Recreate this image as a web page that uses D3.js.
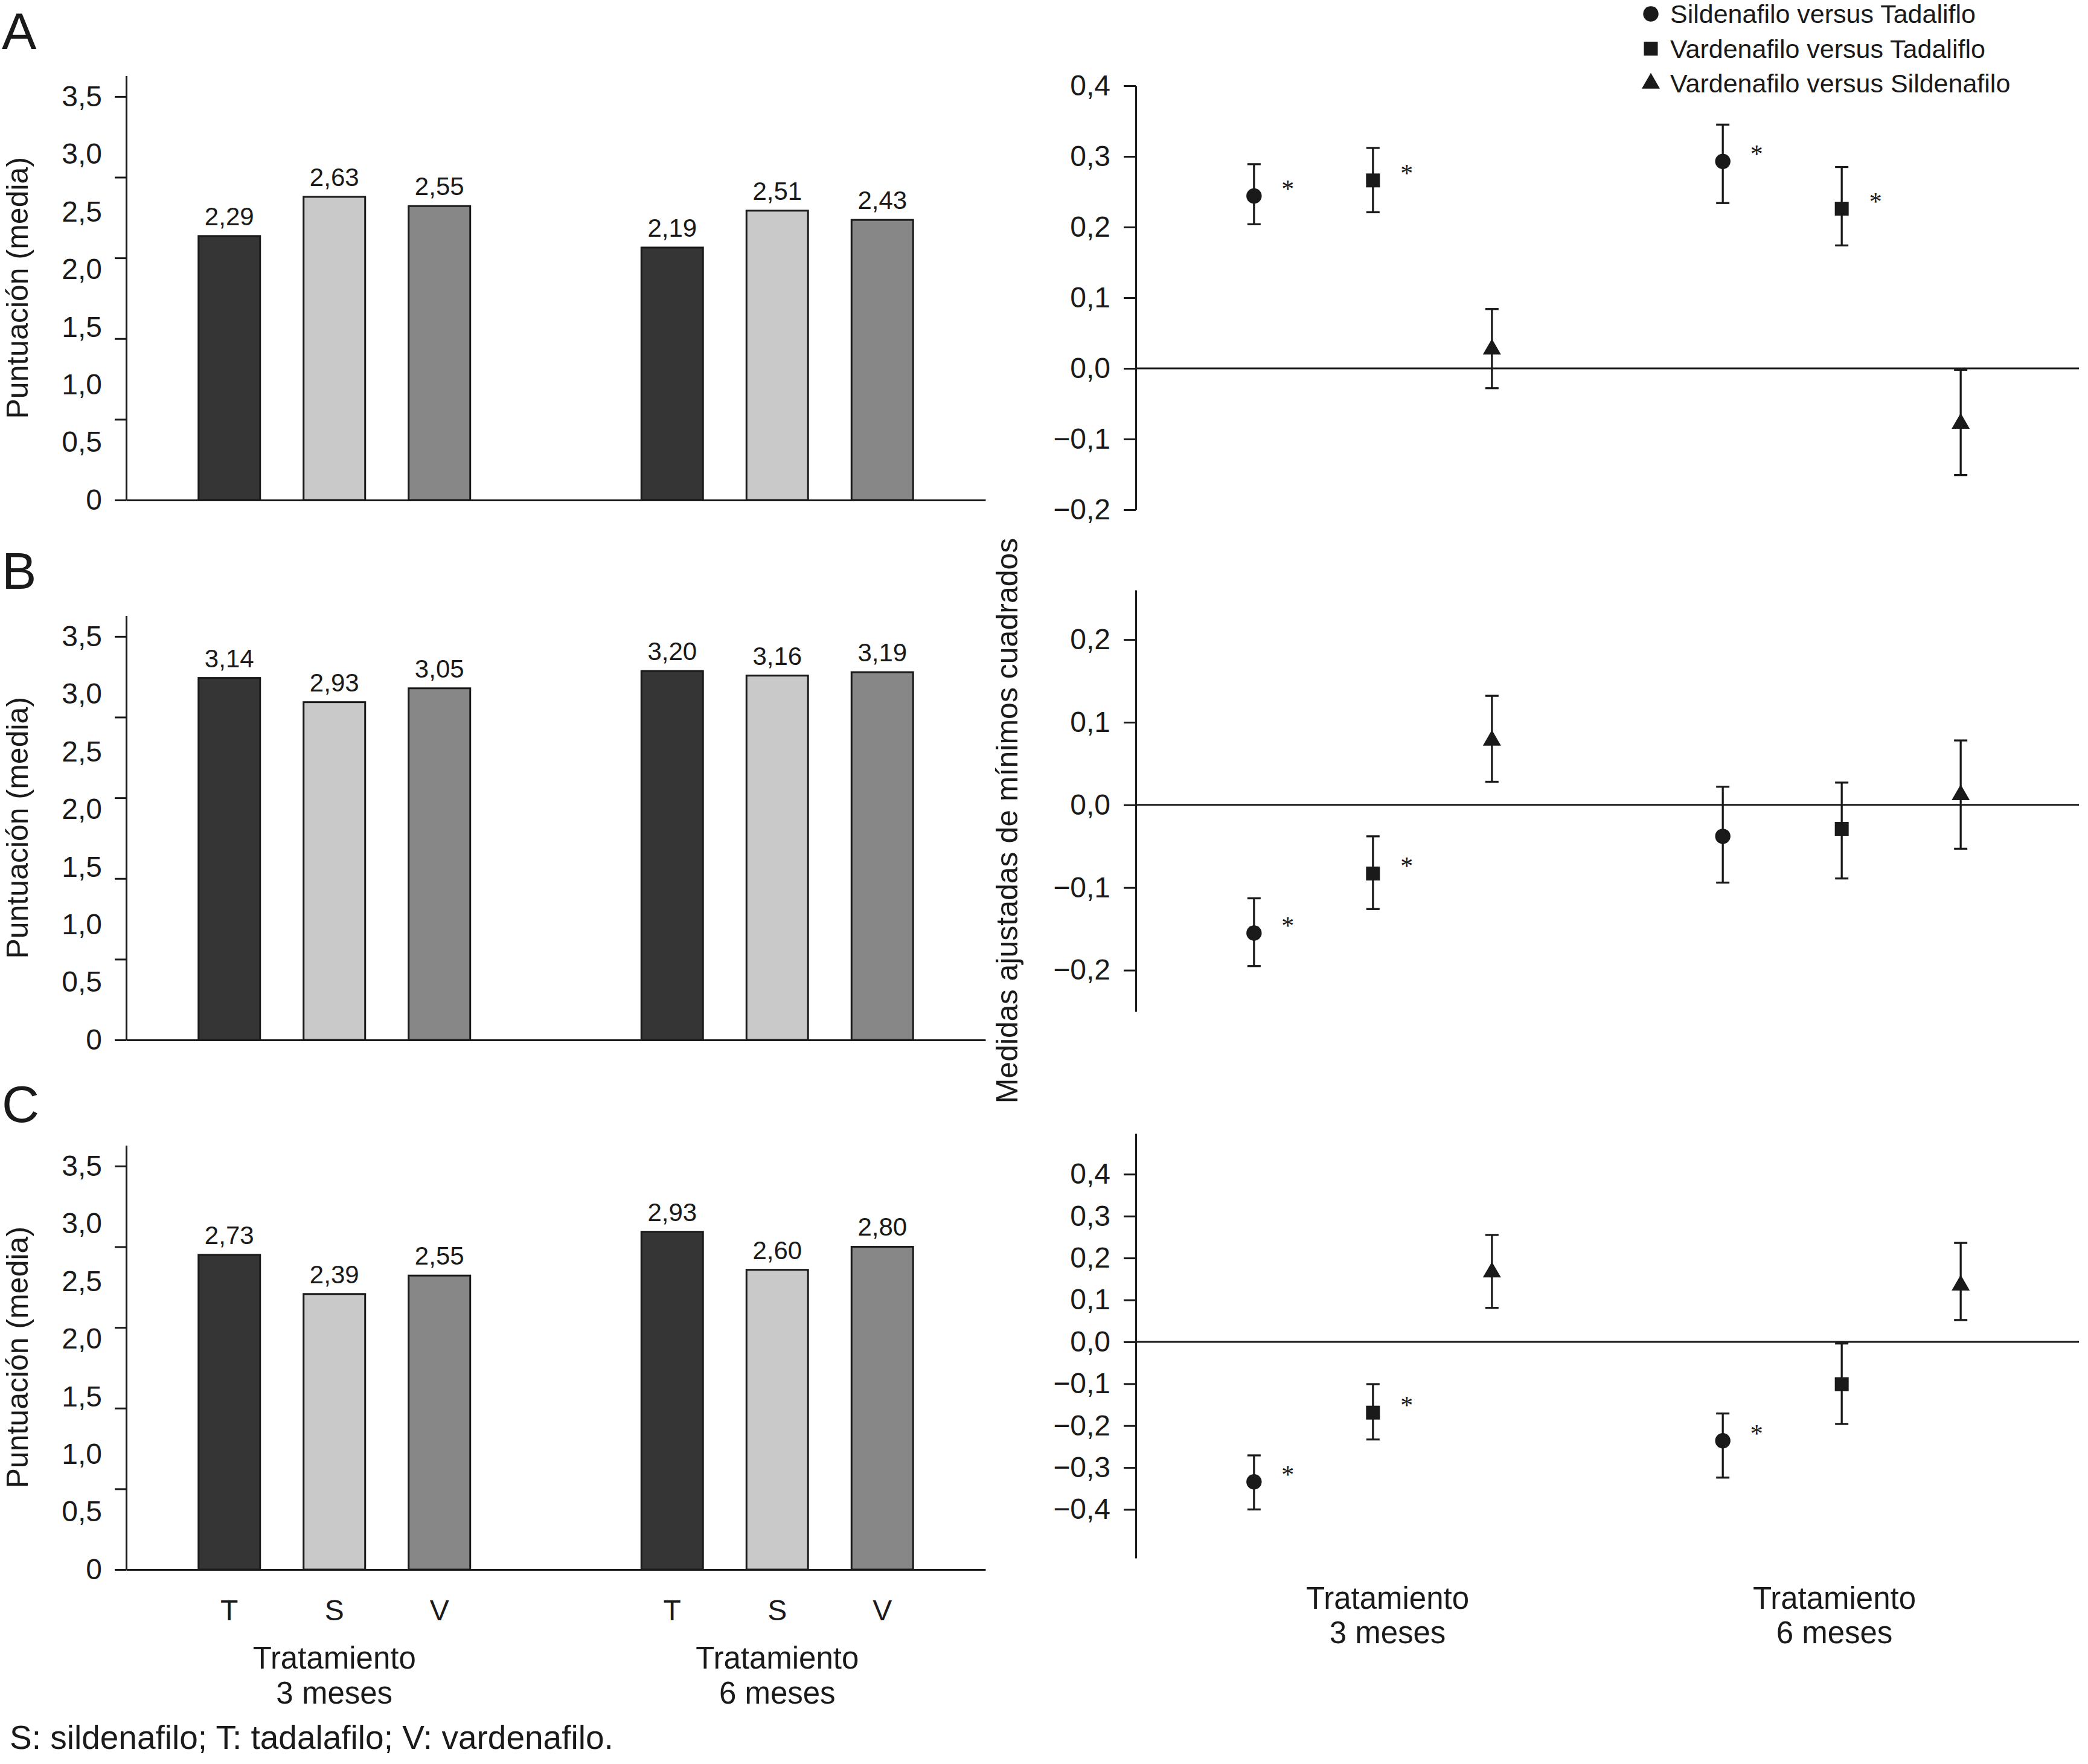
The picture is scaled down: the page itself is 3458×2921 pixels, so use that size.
<!DOCTYPE html>
<html lang="es">
<head>
<meta charset="UTF-8">
<title>Puntuación media y medidas ajustadas</title>
<script src="https://cdn.jsdelivr.net/npm/d3@7"></script>
<style>
  body { margin: 0; background: #fff; }
  svg { display: block; font-family: "Liberation Sans", Arial, Helvetica, sans-serif; }
</style>
</head>
<body>
<svg id="chart" width="3458" height="2921"></svg>
<script>
const panels = ["A", "B", "C"];
const periods = ["3 meses", "6 meses"];
const drugs = ["T", "S", "V"];
const drugColors = ["#353535", "#c9c9c9", "#878787"];

// mean score per period [3 meses, 6 meses], each [T, S, V]
const scoreA = [[2.29, 2.63, 2.55], [2.19, 2.51, 2.43]];
const scoreB = [[3.14, 2.93, 3.05], [3.20, 3.16, 3.19]];
const scoreC = [[2.73, 2.39, 2.55], [2.93, 2.60, 2.80]];
const scoreLabels = [0, 0.5, 1, 1.5, 2, 2.5, 3, 3.5];
const scoreTicks = [0, 0.7, 1.4, 2.1, 2.8, 3.5];

const comparisons = ["Sildenafilo versus Tadaliflo", "Vardenafilo versus Tadaliflo", "Vardenafilo versus Sildenafilo"];

// least squares adjusted differences, per period, each [S-T, V-T, V-S]
const lsmA = [[0.244, 0.266, 0.027], [0.293, 0.226, -0.078]];
const lowA = [[0.204, 0.221, -0.028], [0.234, 0.174, -0.151]];
const highA = [[0.289, 0.312, 0.084], [0.345, 0.285, -0.002]];
const sigA = [[true, true, false], [true, true, false]];

const lsmB = [[-0.155, -0.083, 0.078], [-0.038, -0.029, 0.012]];
const lowB = [[-0.195, -0.126, 0.028], [-0.094, -0.089, -0.053]];
const highB = [[-0.113, -0.038, 0.132], [0.022, 0.027, 0.078]];
const sigB = [[true, true, false], [false, false, false]];

const lsmC = [[-0.334, -0.169, 0.166], [-0.236, -0.101, 0.135]];
const lowC = [[-0.400, -0.233, 0.081], [-0.324, -0.196, 0.052]];
const highC = [[-0.271, -0.101, 0.255], [-0.171, -0.004, 0.236]];
const sigC = [[true, true, false], [true, false, false]];

const lsmTicksA = [-0.2, -0.1, 0, 0.1, 0.2, 0.3, 0.4];
const lsmTicksB = [-0.2, -0.1, 0, 0.1, 0.2];
const lsmTicksC = [-0.4, -0.3, -0.2, -0.1, 0, 0.1, 0.2, 0.3, 0.4];
const lsmDomainA = [-0.2, 0.4];
const lsmDomainB = [-0.25, 0.26];
const lsmDomainC = [-0.516, 0.497];

const rows = [
  {score: scoreA, lsm: lsmA, low: lowA, high: highA, sig: sigA, ticks: lsmTicksA, dom: lsmDomainA,
   base: 828, letterY: 81, rTop: 142, rBottom: 844},
  {score: scoreB, lsm: lsmB, low: lowB, high: highB, sig: sigB, ticks: lsmTicksB, dom: lsmDomainB,
   base: 1722, letterY: 975, rTop: 977, rBottom: 1675},
  {score: scoreC, lsm: lsmC, low: lowC, high: highC, sig: sigC, ticks: lsmTicksC, dom: lsmDomainC,
   base: 2599, letterY: 1858, rTop: 1877, rBottom: 2580}
];

const ink = "#1a1a1a";
const svg = d3.select("#chart");

const fmt = d => {
  if (d === 0) return "0";
  return d3.format(".1f")(d).replace(".", ",");
};
const fmtR = d => d3.format(".1f")(d).replace(".", ",");
const fmt2 = d => d3.format(".2f")(d).replace(".", ",");

// left side: bars
const xL = d3.scalePoint().domain(periods).range([209, 1632]).padding(0.47);
const xLin = d3.scaleBand().domain(drugs).range([-261, 261]).paddingInner(0.414).paddingOuter(0.207);

// right side: lsm differences
const xR = d3.scalePoint().domain(periods).range([1881, 3443]).padding(0.506);
const xRin = d3.scalePoint().domain(comparisons).range([-197, 197]);
const xRlabel = d3.scalePoint().domain(periods).range([2298, 3038]);
const symbols = [d3.symbol(d3.symbolCircle, 507), d3.symbol(d3.symbolSquare, 529), d3.symbol(d3.symbolTriangle, 390)];

function styleAxis(g, size) {
  g.attr("font-family", null).attr("font-size", null);
  g.selectAll("path, line").attr("stroke", ink).attr("stroke-width", 3);
  g.selectAll("text").attr("fill", ink).attr("font-size", size);
}

rows.forEach((row, r) => {
  const yL = d3.scaleLinear().domain([0, 3.68]).range([row.base, row.base - 702.5]);

  svg.append("text")
    .attr("x", 3).attr("y", row.letterY)
    .attr("font-size", 86).attr("fill", ink)
    .text(panels[r]);

  // bars
  periods.forEach((p, pi) => {
    const g = svg.append("g").attr("transform", `translate(${xL(p)},0)`);
    g.selectAll("rect")
      .data(row.score[pi])
      .enter()
      .append("rect")
      .attr("x", (d, i) => xLin(drugs[i]))
      .attr("width", xLin.bandwidth())
      .attr("y", d => yL(d))
      .attr("height", d => yL(0) - yL(d))
      .attr("fill", (d, i) => drugColors[i])
      .attr("stroke", ink)
      .attr("stroke-width", 3);
    g.selectAll("text.val")
      .data(row.score[pi])
      .enter()
      .append("text")
      .attr("class", "val")
      .attr("x", (d, i) => xLin(drugs[i]) + xLin.bandwidth() / 2)
      .attr("y", d => yL(d) - 18)
      .attr("text-anchor", "middle")
      .attr("font-size", 42)
      .attr("fill", ink)
      .text(fmt2);
  });

  const xa = svg.append("g")
    .attr("transform", `translate(0,${row.base})`)
    .call(d3.axisBottom(xL).tickValues([]).tickSizeOuter(0));
  styleAxis(xa, 48);

  const ya = svg.append("g")
    .attr("transform", "translate(209,0)")
    .call(d3.axisLeft(yL).tickValues(scoreTicks).tickSize(19).tickSizeOuter(0).tickFormat(""));
  styleAxis(ya, 48);

  const yl = svg.append("g")
    .attr("transform", "translate(209,0)")
    .call(d3.axisLeft(yL).tickValues(scoreLabels).tickSize(0).tickPadding(40).tickFormat(fmt));
  yl.select(".domain").remove();
  styleAxis(yl, 48);

  svg.append("text")
    .attr("transform", `translate(46,${(row.base + yL(3.68)) / 2}) rotate(-90)`)
    .attr("text-anchor", "middle")
    .attr("font-size", 50)
    .attr("fill", ink)
    .text("Puntuación (media)");

  // right panel
  const yR = d3.scaleLinear().domain(row.dom).range([row.rBottom, row.rTop]);

  const ra = svg.append("g")
    .attr("transform", "translate(1881,0)")
    .call(d3.axisLeft(yR).tickValues(row.ticks).tickSize(20).tickPadding(22).tickSizeOuter(0).tickFormat(fmtR));
  styleAxis(ra, 48);

  svg.append("line")
    .attr("x1", xR.range()[0]).attr("x2", xR.range()[1])
    .attr("y1", yR(0)).attr("y2", yR(0))
    .attr("stroke", ink).attr("stroke-width", 3);

  periods.forEach((p, pi) => {
    const g = svg.append("g").attr("transform", `translate(${xR(p)},0)`);
    const pts = comparisons.map((c, ci) => ({
      c: c, ci: ci, v: row.lsm[pi][ci], lo: row.low[pi][ci], hi: row.high[pi][ci], sig: row.sig[pi][ci]
    }));

    const eb = g.selectAll("g.err").data(pts).enter().append("g").attr("class", "err")
      .attr("stroke", ink).attr("stroke-width", 3.3);
    eb.append("line")
      .attr("x1", d => xRin(d.c)).attr("x2", d => xRin(d.c))
      .attr("y1", d => yR(d.lo)).attr("y2", d => yR(d.hi));
    eb.append("line")
      .attr("x1", d => xRin(d.c) - 11).attr("x2", d => xRin(d.c) + 11)
      .attr("y1", d => yR(d.hi)).attr("y2", d => yR(d.hi));
    eb.append("line")
      .attr("x1", d => xRin(d.c) - 11).attr("x2", d => xRin(d.c) + 11)
      .attr("y1", d => yR(d.lo)).attr("y2", d => yR(d.lo));

    g.selectAll("path.mark").data(pts).enter().append("path")
      .attr("class", "mark")
      .attr("transform", d => `translate(${xRin(d.c)},${yR(d.v)})`)
      .attr("d", d => symbols[d.ci]())
      .attr("fill", ink);

    g.selectAll("text.star").data(pts.filter(d => d.sig)).enter().append("text")
      .attr("class", "star")
      .attr("x", d => xRin(d.c) + 56)
      .attr("y", d => yR(d.v) + 2)
      .attr("text-anchor", "middle")
      .attr("font-family", "'Liberation Serif', 'Times New Roman', serif")
      .attr("font-size", 42)
      .attr("fill", ink)
      .text("*");
  });
});

// bottom labels
periods.forEach(p => {
  drugs.forEach(d => {
    svg.append("text")
      .attr("x", xL(p) + xLin(d) + xLin.bandwidth() / 2)
      .attr("y", 2683)
      .attr("text-anchor", "middle")
      .attr("font-size", 48)
      .attr("fill", ink)
      .text(d);
  });
  [[xL(p), 2763, 2821], [xRlabel(p), 2664, 2721]].forEach(([x, y1, y2]) => {
    const t = svg.append("text")
      .attr("text-anchor", "middle")
      .attr("font-size", 51)
      .attr("fill", ink);
    t.append("tspan").attr("x", x).attr("y", y1).text("Tratamiento");
    t.append("tspan").attr("x", x).attr("y", y2).text(p);
  });
});

svg.append("text")
  .attr("transform", "translate(1685,1359) rotate(-90)")
  .attr("text-anchor", "middle")
  .attr("font-size", 50)
  .attr("fill", ink)
  .text("Medidas ajustadas de mínimos cuadrados");

// legend
const legend = svg.append("g").attr("transform", "translate(2734,23)");
comparisons.forEach((c, i) => {
  legend.append("path")
    .attr("transform", `translate(0,${i * 57.5})`)
    .attr("d", symbols[i]())
    .attr("fill", ink);
  legend.append("text")
    .attr("x", 32).attr("y", i * 57.5)
    .attr("dy", "0.36em")
    .attr("font-size", 43)
    .attr("fill", ink)
    .text(c);
});

svg.append("text")
  .attr("x", 16).attr("y", 2896)
  .attr("font-size", 55)
  .attr("fill", ink)
  .text("S: sildenafilo; T: tadalafilo; V: vardenafilo.");
</script>
</body>
</html>
